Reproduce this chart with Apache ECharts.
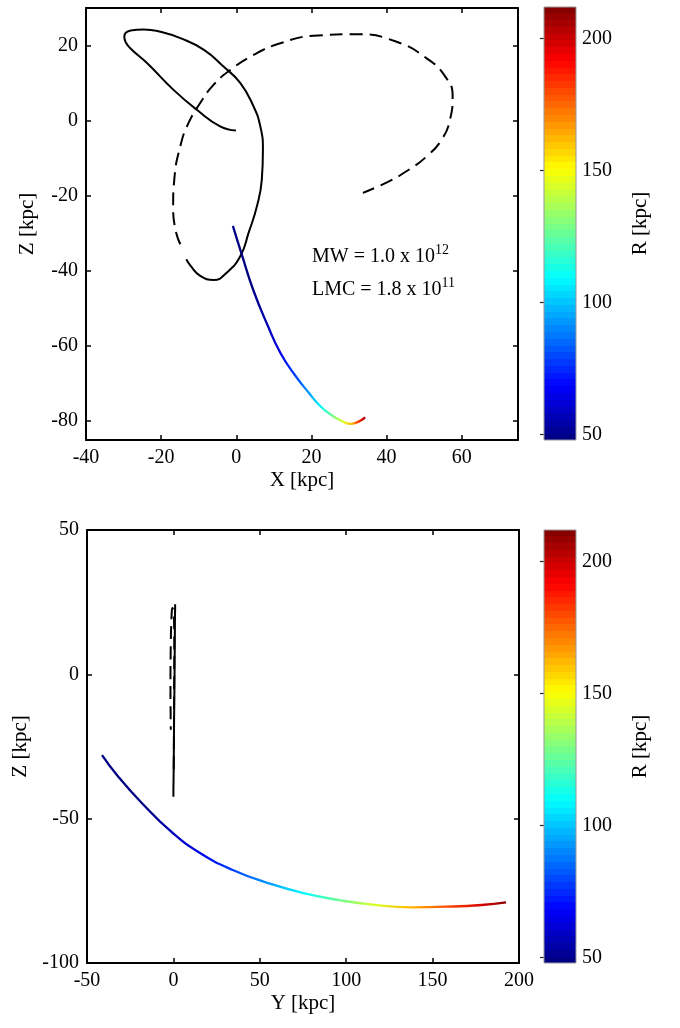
<!DOCTYPE html>
<html>
<head>
<meta charset="utf-8">
<title>LMC orbit</title>
<script src="https://cdn.jsdelivr.net/npm/echarts@6.0.0/dist/echarts.min.js"></script>
<style>
  html, body { margin: 0; padding: 0; background: #fff; }
  #main { width: 680px; height: 1028px; }
</style>
</head>
<body>
<div id="main"></div>
<script>
// orbit, solid part (kpc)
const solidX = [-0.1, -4.3, -10.5, -16.7, -23.7, -27.8, -29.4, -29.8, -28.1, -24.6, -20.2, -14.9, -8.7, -3.4, 1.1, 4.6, 6.4, 7.1, 6.8, 5.5, 3.3, 1.1, -2.5, -6.0, -9.6, -12.2, -13.3];
const solidY = [0.6, 0.65, 0.7, 0.75, 0.85, 0.9, 0.95, 1.0, 1.0, 1.0, 1.0, 0.95, 0.9, 0.85, 0.8, 0.7, 0.65, 0.55, 0.4, 0.3, 0.2, 0.1, 0.0, 0.0, 0.0, 0.05, 0.1];
const solidZ = [-2.6, -1.5, 2.9, 8.2, 15.3, 18.9, 20.8, 22.4, 24.0, 24.3, 23.7, 22.0, 18.9, 14.4, 10.0, 3.8, -1.5, -7.7, -15.7, -22.8, -29.8, -36.0, -40.4, -42.4, -41.3, -38.6, -36.9];

// orbit, dashed part (kpc)
const dashX = [-14.9, -16.2, -16.8, -16.5, -14.9, -12.7, -9.6, -6.0, -1.6, 4.6, 11.7, 20.6, 32.1, 42.7, 50.7, 55.6, 57.6, 56.9, 54.7, 50.7, 45.4, 40.1, 33.7];
const dashY = [0.2, 0.25, 0.3, 0.35, 0.4, 0.45, 0.5, 0.5, 0.5, 0.4, 0.2, -0.2, -0.6, -1.0, -1.3, -1.5, -1.6, -1.7, -1.7, -1.7, -1.6, -1.6, -1.5];
const dashZ = [-32.9, -29.0, -22.8, -15.7, -6.8, -0.6, 4.7, 9.6, 13.5, 17.5, 20.6, 22.6, 23.0, 21.0, 16.6, 11.8, 6.5, 0.3, -5.0, -9.5, -13.4, -16.4, -19.2];

// LMC track, coloured by R
const lmcX = [-0.9, 1.4, 4.5, 8.4, 11.8, 15.6, 19.2, 22.2, 25.1, 28.0, 30.3, 31.6, 33.0, 34.3];
const lmcY = [-41.3, -32.0, -17.6, -1.1, 15.4, 34.0, 54.7, 75.3, 96.0, 116.6, 137.2, 157.9, 178.4, 192.5];
const lmcZ = [-28.0, -35.4, -45.0, -54.6, -61.9, -67.7, -72.3, -75.8, -78.2, -79.9, -80.7, -80.5, -79.9, -79.0];
const lmcR = [50, 48, 48, 56, 65, 78, 93, 109, 127, 145, 162, 180, 199, 211];

const topXTicks = [-40, -20, 0, 20, 40, 60];
const topZTicks = [-80, -60, -40, -20, 0, 20];
const botYTicks = [-50, 0, 50, 100, 150, 200];
const botZTicks = [-100, -50, 0, 50];
const rTicks = [50, 100, 150, 200];
const rMin = 48, rMax = 212;

const font = '"Liberation Serif", "Times New Roman", serif';

function jet(t) {
  const c = v => Math.round(255 * Math.max(0, Math.min(1, v)));
  const r = 1.5 - Math.abs(4 * t - 3);
  const g = 1.5 - Math.abs(4 * t - 2);
  const b = 1.5 - Math.abs(4 * t - 1);
  return 'rgb(' + c(r) + ',' + c(g) + ',' + c(b) + ')';
}

function zip(a, b) {
  return a.map((v, i) => [v, b[i]]);
}

// horizontal gradient along the track, using its (monotonic) horizontal coordinate
function trackGradient(along) {
  const lo = Math.min(...along), hi = Math.max(...along);
  const stops = along.map((v, i) => ({
    offset: (v - lo) / (hi - lo),
    color: jet((lmcR[i] - rMin) / (rMax - rMin))
  }));
  return new echarts.graphic.LinearGradient(0, 0, 1, 0, stops);
}

// 64 colour bands like matlab's jet(64)
const bandStops = [];
for (let i = 0; i < 64; i++) {
  const col = jet((i + 0.5) / 64);
  bandStops.push({ offset: i / 64, color: col }, { offset: (i + 1) / 64, color: col });
}

const axisLineStyle = { color: '#000', width: 2 };
const labelStyle = { fontFamily: font, fontSize: 20, color: '#000' };
const nameStyle = { fontFamily: font, fontSize: 21, color: '#000' };

function frameAxis(grid, pos, min, max, ticks, withLabels, extra) {
  return Object.assign({
    gridIndex: grid,
    type: 'value',
    position: pos,
    min: min,
    max: max,
    axisLine: { show: true, onZero: false, lineStyle: axisLineStyle },
    axisTick: { show: true, inside: true, length: 5, customValues: ticks, lineStyle: { color: '#000', width: 1.5 } },
    axisLabel: Object.assign({ show: withLabels, customValues: ticks, margin: 8 }, labelStyle),
    splitLine: { show: false }
  }, extra || {});
}

function barAxis(grid, pos, withLabels, extra) {
  return Object.assign({
    gridIndex: grid,
    type: 'value',
    position: pos,
    min: rMin,
    max: rMax,
    axisLine: { show: false },
    axisTick: { show: true, inside: true, length: 4, customValues: rTicks, lineStyle: { color: '#222', width: 1.2 } },
    axisLabel: Object.assign({ show: withLabels, customValues: rTicks, margin: 6 }, labelStyle),
    splitLine: { show: false }
  }, extra || {});
}

function hiddenX(grid) {
  return { gridIndex: grid, type: 'value', min: 0, max: 1, show: false };
}

function colorBar(xi, yi) {
  return {
    type: 'custom',
    xAxisIndex: xi,
    yAxisIndex: yi,
    silent: true,
    data: [[0, rMin]],
    renderItem: function (params, api) {
      const p0 = api.coord([0, rMin]);
      const p1 = api.coord([1, rMax]);
      return {
        type: 'rect',
        shape: { x: p0[0], y: p1[1], width: p1[0] - p0[0], height: p0[1] - p1[1] },
        style: {
          fill: new echarts.graphic.LinearGradient(0, 1, 0, 0, bandStops),
          stroke: '#999',
          lineWidth: 1
        },
        z2: -1
      };
    }
  };
}

function orbit(xi, yi, data, dashed) {
  return {
    type: 'line',
    xAxisIndex: xi,
    yAxisIndex: yi,
    data: data,
    showSymbol: false,
    symbol: 'none',
    smooth: 0.5,
    silent: true,
    lineStyle: { color: '#000', width: 2, type: dashed ? [13, 7] : 'solid' }
  };
}

function track(xi, yi, data, along) {
  return {
    type: 'line',
    xAxisIndex: xi,
    yAxisIndex: yi,
    data: data,
    showSymbol: false,
    symbol: 'none',
    smooth: 0.5,
    silent: true,
    lineStyle: { color: trackGradient(along), width: 2.3 }
  };
}

const rich = {
  t: { fontFamily: font, fontSize: 20, color: '#000', lineHeight: 24, verticalAlign: 'bottom' },
  s: { fontFamily: font, fontSize: 14, color: '#000', lineHeight: 14, verticalAlign: 'top' }
};

const chart = echarts.init(document.getElementById('main'));
chart.setOption({
  animation: false,
  backgroundColor: '#fff',
  grid: [
    { left: 86, top: 8, width: 432, height: 432 },
    { left: 544, top: 7, width: 32, height: 433 },
    { left: 87, top: 530, width: 432, height: 433 },
    { left: 544, top: 530, width: 32, height: 433 }
  ],
  xAxis: [
    frameAxis(0, 'bottom', -40, 75, topXTicks, true,
      { name: 'X [kpc]', nameLocation: 'middle', nameGap: 30, nameTextStyle: nameStyle }),
    frameAxis(0, 'top', -40, 75, topXTicks, false),
    hiddenX(1),
    frameAxis(2, 'bottom', -50, 200, botYTicks, true,
      { name: 'Y [kpc]', nameLocation: 'middle', nameGap: 30, nameTextStyle: nameStyle }),
    frameAxis(2, 'top', -50, 200, botYTicks, false),
    hiddenX(3)
  ],
  yAxis: [
    frameAxis(0, 'left', -85, 30, topZTicks, true,
      { name: 'Z [kpc]', nameLocation: 'middle', nameGap: 48, nameRotate: 90, nameTextStyle: nameStyle }),
    frameAxis(0, 'right', -85, 30, topZTicks, false),
    barAxis(1, 'right', true,
      { name: 'R [kpc]', nameLocation: 'middle', nameGap: 54, nameRotate: 90, nameTextStyle: nameStyle }),
    barAxis(1, 'left', false),
    frameAxis(2, 'left', -100, 50, botZTicks, true,
      { name: 'Z [kpc]', nameLocation: 'middle', nameGap: 48, nameRotate: 90, nameTextStyle: nameStyle }),
    frameAxis(2, 'right', -100, 50, botZTicks, false),
    barAxis(3, 'right', true,
      { name: 'R [kpc]', nameLocation: 'middle', nameGap: 54, nameRotate: 90, nameTextStyle: nameStyle }),
    barAxis(3, 'left', false)
  ],
  series: [
    orbit(0, 0, zip(solidX, solidZ), false),
    orbit(0, 0, zip(dashX, dashZ), true),
    track(0, 0, zip(lmcX, lmcZ), lmcX),
    colorBar(2, 2),
    orbit(3, 4, zip(solidY, solidZ), false),
    orbit(3, 4, zip(dashY, dashZ), true),
    track(3, 4, zip(lmcY, lmcZ), lmcY),
    colorBar(5, 6)
  ],
  graphic: [
    { type: 'text', left: 312, top: 243, silent: true,
      style: { text: '{t|MW = 1.0 x 10}{s|12}', rich: rich } },
    { type: 'text', left: 312, top: 276, silent: true,
      style: { text: '{t|LMC = 1.8 x 10}{s|11}', rich: rich } }
  ]
});
</script>
</body>
</html>
